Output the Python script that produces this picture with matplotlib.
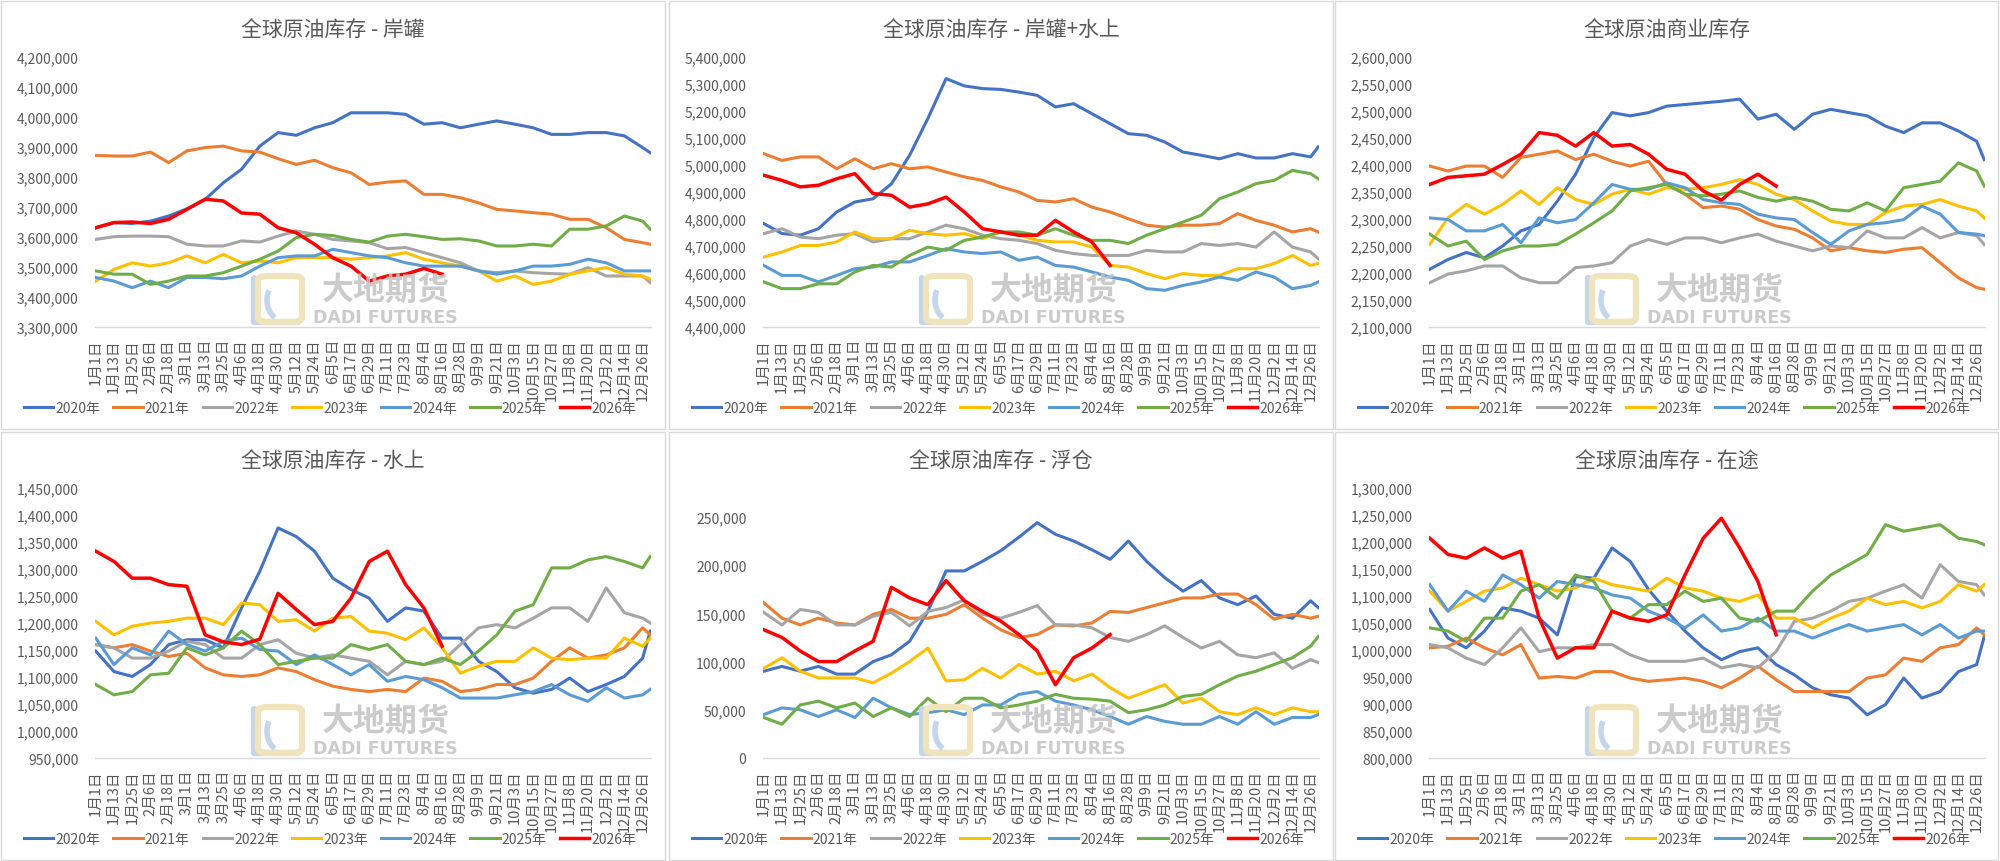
import matplotlib
matplotlib.use('Agg')
import matplotlib.pyplot as plt
from matplotlib.patches import Rectangle, FancyBboxPatch, Arc
from matplotlib.lines import Line2D
from matplotlib.ticker import FuncFormatter, FixedLocator

plt.rcParams['font.family'] = ['Noto Sans CJK SC', 'DejaVu Sans']

# 横轴：闰年日历，每12天一个标签
tick_labels = ['1月1日', '1月13日', '1月25日', '2月6日', '2月18日', '3月1日', '3月13日',
               '3月25日', '4月6日', '4月18日', '4月30日', '5月12日', '5月24日', '6月5日',
               '6月17日', '6月29日', '7月11日', '7月23日', '8月4日', '8月16日', '8月28日',
               '9月9日', '9月21日', '10月3日', '10月15日', '10月27日', '11月8日', '11月20日',
               '12月2日', '12月14日', '12月26日']
tick_days = list(range(0, 361, 12))
days = tick_days + [365]
days_2026 = tick_days[:19] + [228]

years = ['2020年', '2021年', '2022年', '2023年', '2024年', '2025年', '2026年']
colors = ['#4472C4', '#ED7D31', '#A5A5A5', '#FFC000', '#5B9BD5', '#70AD47', '#FF0000']

# 单位：千桶 (画图时 *1000)
# 岸罐
tank_2020 = [3631, 3648, 3645, 3653, 3670, 3694, 3725, 3781, 3826, 3903, 3948, 3939, 3964, 3981, 4014, 4014,
             4014, 4009, 3976, 3981, 3964, 3976, 3987, 3976, 3964, 3942, 3942, 3948, 3948, 3937, 3898, 3881]
tank_2021 = [3872, 3870, 3870, 3883, 3848, 3887, 3898, 3903, 3887, 3883, 3861, 3842, 3856, 3831, 3814, 3775,
             3783, 3787, 3742, 3742, 3731, 3714, 3692, 3687, 3681, 3676, 3659, 3659, 3631, 3592, 3581, 3576]
tank_2022 = [3592, 3601, 3603, 3603, 3601, 3576, 3570, 3570, 3587, 3583, 3603, 3620, 3609, 3592, 3587, 3581,
             3561, 3565, 3548, 3531, 3514, 3487, 3481, 3487, 3481, 3478, 3476, 3498, 3470, 3470, 3470, 3448]
tank_2023 = [3453, 3492, 3514, 3503, 3514, 3537, 3514, 3542, 3514, 3520, 3514, 3531, 3531, 3531, 3526, 3531,
             3537, 3548, 3526, 3514, 3503, 3487, 3453, 3470, 3442, 3453, 3476, 3487, 3498, 3476, 3470, 3459]
tank_2024 = [3465, 3453, 3431, 3453, 3431, 3465, 3465, 3461, 3470, 3503, 3531, 3537, 3537, 3559, 3548, 3537,
             3531, 3514, 3503, 3503, 3503, 3487, 3476, 3487, 3503, 3503, 3509, 3526, 3514, 3487, 3487, 3487]
tank_2025 = [3487, 3476, 3476, 3442, 3453, 3470, 3470, 3481, 3503, 3526, 3553, 3598, 3609, 3605, 3592, 3583,
             3603, 3609, 3601, 3592, 3594, 3587, 3570, 3570, 3576, 3570, 3626, 3626, 3637, 3670, 3653, 3626]
tank_2026 = [3631, 3648, 3650, 3645, 3659, 3692, 3726, 3720, 3680, 3676, 3631, 3614, 3576, 3531, 3503, 3453,
             3470, 3476, 3495, 3476]

# 岸罐+水上
total_2020 = [4783, 4746, 4740, 4764, 4826, 4863, 4875, 4930, 5036, 5172, 5320, 5293, 5283, 5280, 5270, 5258,
              5215, 5227, 5190, 5153, 5116, 5110, 5085, 5048, 5036, 5023, 5042, 5026, 5026, 5042, 5030, 5067]
total_2021 = [5042, 5017, 5030, 5030, 4986, 5023, 4986, 5005, 4986, 4993, 4974, 4956, 4943, 4919, 4900, 4869,
              4863, 4875, 4844, 4826, 4801, 4777, 4770, 4777, 4777, 4783, 4820, 4795, 4777, 4752, 4764, 4752]
total_2022 = [4746, 4764, 4733, 4727, 4740, 4746, 4715, 4727, 4727, 4752, 4777, 4764, 4740, 4727, 4721, 4709,
              4684, 4672, 4665, 4665, 4665, 4684, 4678, 4678, 4709, 4702, 4709, 4696, 4752, 4696, 4678, 4653]
total_2023 = [4659, 4678, 4702, 4702, 4715, 4752, 4727, 4727, 4758, 4746, 4740, 4746, 4727, 4752, 4740, 4721,
              4715, 4715, 4696, 4628, 4622, 4598, 4579, 4598, 4591, 4591, 4616, 4616, 4635, 4665, 4628, 4635]
total_2024 = [4628, 4591, 4591, 4567, 4591, 4616, 4622, 4641, 4641, 4665, 4690, 4678, 4672, 4678, 4647, 4659,
              4628, 4622, 4604, 4585, 4573, 4542, 4536, 4554, 4567, 4585, 4573, 4604, 4585, 4542, 4554, 4567]
total_2025 = [4567, 4542, 4542, 4560, 4560, 4604, 4628, 4622, 4665, 4696, 4684, 4721, 4733, 4752, 4752, 4740,
              4764, 4740, 4721, 4721, 4709, 4740, 4764, 4789, 4814, 4875, 4900, 4931, 4943, 4980, 4968, 4949]
total_2026 = [4962, 4943, 4919, 4925, 4949, 4968, 4894, 4888, 4844, 4856, 4881, 4826, 4764, 4752, 4740, 4740,
              4795, 4752, 4715, 4628]

# 商业库存
comm_2020 = [2207, 2225, 2238, 2228, 2250, 2278, 2290, 2333, 2383, 2451, 2497, 2491, 2497, 2509, 2512, 2515,
             2518, 2522, 2485, 2494, 2466, 2494, 2503, 2497, 2491, 2472, 2460, 2478, 2478, 2463, 2444, 2410]
comm_2021 = [2398, 2389, 2398, 2398, 2377, 2414, 2420, 2426, 2410, 2420, 2407, 2398, 2407, 2364, 2346, 2321,
             2324, 2318, 2299, 2287, 2281, 2265, 2241, 2247, 2241, 2238, 2244, 2247, 2219, 2191, 2173, 2170]
comm_2022 = [2182, 2198, 2204, 2213, 2213, 2191, 2182, 2182, 2210, 2213, 2219, 2250, 2262, 2253, 2265, 2265,
             2256, 2265, 2272, 2259, 2250, 2241, 2250, 2247, 2278, 2265, 2265, 2284, 2265, 2275, 2269, 2253]
comm_2023 = [2253, 2302, 2327, 2309, 2327, 2352, 2327, 2358, 2336, 2327, 2346, 2355, 2346, 2358, 2355, 2358,
             2364, 2373, 2364, 2346, 2336, 2315, 2296, 2290, 2290, 2312, 2324, 2327, 2336, 2324, 2315, 2302]
comm_2024 = [2302, 2299, 2278, 2278, 2290, 2256, 2302, 2293, 2299, 2330, 2364, 2355, 2355, 2367, 2358, 2336,
             2330, 2327, 2309, 2302, 2299, 2275, 2253, 2278, 2290, 2293, 2299, 2324, 2309, 2275, 2272, 2269]
comm_2025 = [2272, 2250, 2259, 2225, 2241, 2250, 2250, 2253, 2272, 2293, 2315, 2352, 2358, 2364, 2346, 2343,
             2346, 2352, 2340, 2333, 2340, 2333, 2318, 2315, 2330, 2315, 2358, 2364, 2370, 2404, 2389, 2361]
comm_2026 = [2364, 2377, 2380, 2383, 2401, 2420, 2460, 2455, 2435, 2460, 2435, 2438, 2420, 2392, 2383, 2352,
             2335, 2364, 2383, 2361]

# 水上
water_2020 = [1148, 1110, 1101, 1123, 1160, 1169, 1169, 1154, 1228, 1296, 1376, 1360, 1333, 1283, 1262, 1246,
              1203, 1228, 1222, 1172, 1172, 1129, 1110, 1080, 1070, 1077, 1098, 1073, 1086, 1101, 1135, 1185]
water_2021 = [1160, 1154, 1160, 1148, 1138, 1144, 1117, 1104, 1101, 1104, 1117, 1110, 1095, 1083, 1077, 1073,
              1077, 1073, 1098, 1092, 1073, 1077, 1086, 1086, 1098, 1129, 1154, 1135, 1141, 1154, 1191, 1178]
water_2022 = [1160, 1154, 1135, 1135, 1148, 1166, 1160, 1135, 1135, 1160, 1169, 1144, 1135, 1141, 1135, 1129,
              1104, 1129, 1123, 1129, 1160, 1191, 1197, 1191, 1209, 1228, 1228, 1203, 1265, 1219, 1209, 1200]
water_2023 = [1203, 1178, 1194, 1200, 1203, 1209, 1209, 1197, 1237, 1234, 1203, 1206, 1185, 1209, 1212, 1185,
              1181, 1169, 1191, 1154, 1107, 1120, 1129, 1129, 1154, 1135, 1132, 1135, 1135, 1172, 1157, 1172]
water_2024 = [1172, 1123, 1154, 1141, 1185, 1160, 1148, 1166, 1172, 1151, 1148, 1123, 1141, 1123, 1104, 1123,
              1092, 1101, 1095, 1080, 1061, 1061, 1061, 1067, 1073, 1086, 1067, 1055, 1080, 1061, 1067, 1077]
water_2025 = [1086, 1067, 1073, 1104, 1107, 1154, 1141, 1154, 1185, 1160, 1123, 1129, 1135, 1135, 1160, 1151,
              1160, 1129, 1123, 1135, 1123, 1148, 1178, 1222, 1234, 1302, 1302, 1317, 1323, 1314, 1302, 1323]
water_2026 = [1333, 1314, 1283, 1283, 1271, 1268, 1178, 1165, 1160, 1170, 1255, 1225, 1197, 1203, 1246, 1314,
              1333, 1271, 1228, 1157]

# 浮仓
float_2020 = [90, 95, 90, 95, 87, 87, 100, 107, 121, 152, 194, 194, 204, 215, 229, 244,
              232, 225, 216, 206, 225, 204, 187, 173, 184, 166, 159, 168, 149, 145, 163, 156]
float_2021 = [161, 145, 138, 145, 140, 138, 149, 154, 145, 145, 149, 159, 145, 133, 125, 128,
              138, 137, 140, 152, 151, 156, 161, 166, 166, 170, 170, 159, 144, 149, 145, 147]
float_2022 = [151, 138, 154, 151, 138, 138, 147, 151, 137, 152, 156, 164, 149, 145, 151, 158,
              138, 138, 135, 125, 121, 128, 137, 125, 114, 121, 107, 104, 109, 93, 102, 99]
float_2023 = [93, 104, 90, 83, 83, 83, 78, 88, 100, 114, 80, 81, 93, 83, 97, 87,
              90, 80, 87, 73, 62, 69, 76, 57, 62, 48, 45, 52, 45, 52, 48, 48]
float_2024 = [45, 52, 50, 43, 50, 42, 62, 52, 45, 47, 50, 45, 55, 55, 66, 69,
              59, 55, 50, 43, 35, 43, 38, 35, 35, 43, 35, 48, 35, 42, 42, 45]
float_2025 = [42, 35, 55, 59, 52, 57, 43, 52, 43, 62, 48, 62, 62, 52, 55, 59,
              66, 62, 61, 59, 47, 50, 55, 64, 66, 76, 85, 90, 97, 104, 116, 126]
float_2026 = [133, 125, 111, 100, 100, 111, 121, 177, 166, 159, 184, 163, 152, 142, 128, 111,
              76, 104, 114, 128]

# 在途
transit_2020 = [1075, 1022, 1004, 1035, 1078, 1072, 1059, 1028, 1136, 1133, 1189, 1164, 1112, 1072, 1035, 1004,
                982, 997, 1004, 973, 954, 930, 917, 911, 880, 899, 948, 911, 923, 960, 973, 1025]
transit_2021 = [1004, 1007, 1022, 1004, 991, 1010, 948, 951, 948, 960, 960, 948, 942, 945, 948, 942,
                930, 948, 970, 945, 923, 923, 923, 923, 948, 954, 985, 979, 1004, 1010, 1041, 1028]
transit_2022 = [1010, 1004, 985, 973, 1004, 1041, 997, 1004, 1004, 1010, 1010, 991, 979, 979, 979, 985,
                967, 973, 967, 997, 1053, 1059, 1072, 1090, 1096, 1109, 1121, 1096, 1158, 1127, 1121, 1102]
transit_2023 = [1109, 1072, 1090, 1109, 1115, 1133, 1121, 1109, 1115, 1133, 1121, 1115, 1109, 1133, 1115, 1109,
                1096, 1090, 1102, 1059, 1059, 1041, 1059, 1072, 1096, 1084, 1090, 1078, 1090, 1121, 1109, 1121]
transit_2024 = [1121, 1072, 1109, 1090, 1139, 1121, 1096, 1127, 1121, 1115, 1102, 1096, 1072, 1059, 1041, 1065,
                1035, 1041, 1059, 1035, 1035, 1022, 1035, 1047, 1035, 1041, 1047, 1028, 1047, 1022, 1035, 1035]
transit_2025 = [1041, 1035, 1016, 1059, 1059, 1109, 1121, 1096, 1139, 1127, 1072, 1059, 1084, 1084, 1109, 1090,
                1096, 1059, 1053, 1072, 1072, 1109, 1139, 1158, 1177, 1232, 1220, 1226, 1232, 1207, 1201, 1195]
transit_2026 = [1207, 1177, 1170, 1189, 1170, 1183, 1059, 985, 1004, 1004, 1072, 1059, 1053, 1065, 1139, 1207,
                1244, 1189, 1127, 1028]

panels = [
    ('全球原油库存 - 岸罐', [tank_2020, tank_2021, tank_2022, tank_2023, tank_2024, tank_2025, tank_2026],
     3300000, 4200000, 100000, 4200000),
    ('全球原油库存 - 岸罐+水上', [total_2020, total_2021, total_2022, total_2023, total_2024, total_2025, total_2026],
     4400000, 5400000, 100000, 5400000),
    ('全球原油商业库存', [comm_2020, comm_2021, comm_2022, comm_2023, comm_2024, comm_2025, comm_2026],
     2100000, 2600000, 50000, 2600000),
    ('全球原油库存 - 水上', [water_2020, water_2021, water_2022, water_2023, water_2024, water_2025, water_2026],
     950000, 1450000, 50000, 1450000),
    ('全球原油库存 - 浮仓', [float_2020, float_2021, float_2022, float_2023, float_2024, float_2025, float_2026],
     0, 280000, 50000, 250000),
    ('全球原油库存 - 在途', [transit_2020, transit_2021, transit_2022, transit_2023, transit_2024, transit_2025, transit_2026],
     800000, 1300000, 50000, 1300000),
]

W, H = 2000, 862
fig = plt.figure(figsize=(W / 100, H / 100), dpi=100)
fig.patch.set_facecolor('white')

txt_color = '#595959'
col_x = [0, 668, 1334]
row_y = [0, 431]


def fx(px):
    return px / W


def fy(py):
    return 1 - py / H


for i, (title, series, ymin, ymax, step, ytop) in enumerate(panels):
    x0 = col_x[i % 3]
    y0 = row_y[i // 3]
    pw = 666 if i % 3 < 2 else 665

    # 外框
    fig.patches.append(Rectangle((fx(x0 + 1), fy(y0 + 430)), (pw - 2) / W, 428 / H,
                                 transform=fig.transFigure, fill=False,
                                 edgecolor='#d9d9d9', linewidth=1))

    # 水印 (画在坐标区下面)
    lx, ly = x0 + 252, y0 + 275
    fig.patches.append(FancyBboxPatch((fx(lx + 6), fy(ly + 48)), 44 / W, 46 / H,
                                      boxstyle='round,pad=0,rounding_size=0.005',
                                      transform=fig.transFigure, fill=False,
                                      edgecolor='#f0e4bd', linewidth=4.5, zorder=0))
    fig.lines.append(Line2D([fx(lx + 2), fx(lx + 2), fx(lx + 46)],
                            [fy(ly + 4), fy(ly + 48), fy(ly + 48)],
                            transform=fig.transFigure, color='#c6d6ea', lw=4.5,
                            solid_capstyle='round', zorder=0))
    fig.patches.append(Arc((fx(lx + 30), fy(ly + 26)), 30 / W, 40 / H, theta1=120, theta2=260,
                           transform=fig.transFigure, color='#c6d6ea', lw=4, zorder=0))
    fig.text(fx(x0 + 386), fy(y0 + 291), '大地期货', ha='center', va='center',
             fontsize=23, fontweight='bold', color='#c2c2c2', alpha=0.85, zorder=0)
    fig.text(fx(x0 + 385), fy(y0 + 318), 'DADI FUTURES', ha='center', va='center',
             fontsize=12.5, fontweight='bold', color='#c2c2c2', alpha=0.85,
             family=['DejaVu Sans'], zorder=0)

    ax = fig.add_axes([fx(x0 + 95), fy(y0 + 328), 556 / W, 270 / H])
    ax.patch.set_alpha(0)

    lines = []
    for k, vals in enumerate(series):
        xs = days_2026 if k == 6 else days
        ln, = ax.plot(xs, [v * 1000 for v in vals], color=colors[k],
                      lw=2.5 if k == 6 else 2.2, solid_joinstyle='round')
        lines.append(ln)

    ax.set_xlim(-0.5, 365.5)
    ax.set_ylim(ymin, ymax)
    ax.yaxis.set_major_locator(FixedLocator(list(range(ymin, ytop + 1, step))))
    ax.yaxis.set_major_formatter(FuncFormatter(lambda v, p: '{:,.0f}'.format(v)))
    ax.set_xticks(tick_days)
    ax.set_xticklabels(tick_labels, rotation=90, ha='center', va='top')

    for s in ['top', 'right', 'left']:
        ax.spines[s].set_visible(False)
    ax.spines['bottom'].set_color('#d9d9d9')
    ax.spines['bottom'].set_linewidth(1)
    ax.tick_params(axis='y', length=0, pad=12, labelsize=10, labelcolor=txt_color)
    ax.tick_params(axis='x', length=0, pad=8, labelsize=10.5, labelcolor=txt_color)

    fig.text(fx(x0 + 333), fy(y0 + 31), title, ha='center', va='center',
             fontsize=15, color=txt_color)

    ax.legend(lines, years, loc='center', ncol=7, frameon=False,
              bbox_to_anchor=(fx(x0 + 330), fy(y0 + 409)), bbox_transform=fig.transFigure,
              fontsize=10, handlelength=2.1, handletextpad=0.15, columnspacing=0.95,
              labelcolor=txt_color)

fig.savefig('out.png', dpi=100, facecolor='white')
